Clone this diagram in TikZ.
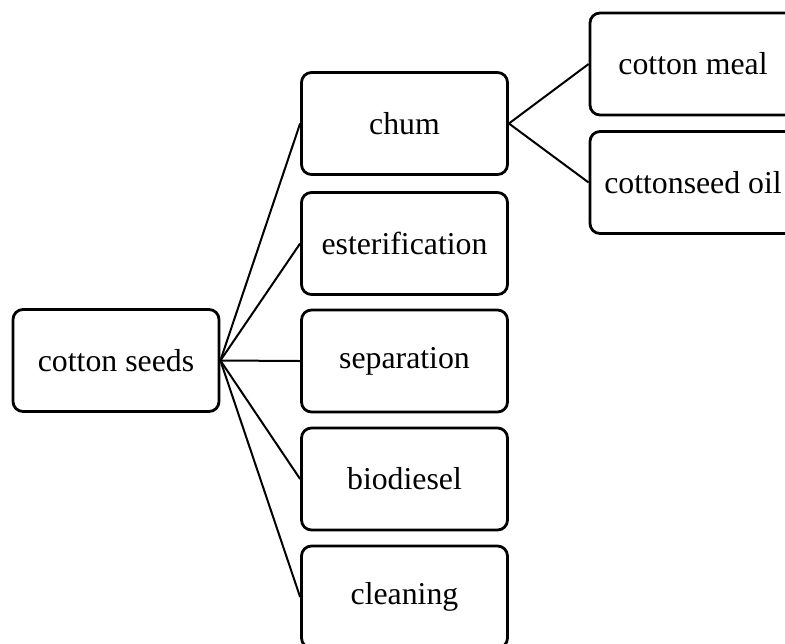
\documentclass[tikz,border=0pt]{standalone}
\usepackage{fontspec}
\setmainfont{Liberation Serif}
\tikzset{
  stagebox/.style={draw, line width=1.4pt, rounded corners=5pt, inner sep=0pt,
    minimum width=103pt, minimum height=51pt, align=center,
    font=\fontsize{15.9}{19}\selectfont},
  link/.style={line width=1pt}
}
\begin{document}
\begin{tikzpicture}[x=0.5pt, y=-0.5pt]
\useasboundingbox (0,0) rectangle (785,643);
\node[stagebox] (seeds) at (116,360.5) {cotton seeds};
\node[stagebox] (chum) at (404.5,123.5) {chum};
\node[stagebox] (ester) at (404.5,243.5) {esterification};
\node[stagebox] (separ) at (404.5,361) {separation};
\node[stagebox] (biodiesel) at (404.5,479) {biodiesel};
\node[stagebox] (cleaning) at (404.5,597) {cleaning};
\node[stagebox] (meal) at (693,64) {cotton meal};
\node[stagebox] (oil) at (693,182.5) {cottonseed oil};
\foreach \t in {chum,ester,separ,biodiesel,cleaning}
  \draw[link] (seeds.east) -- (\t.west);
\draw[link] (chum.east) -- (meal.west);
\draw[link] (chum.east) -- (oil.west);
\end{tikzpicture}
\end{document}
